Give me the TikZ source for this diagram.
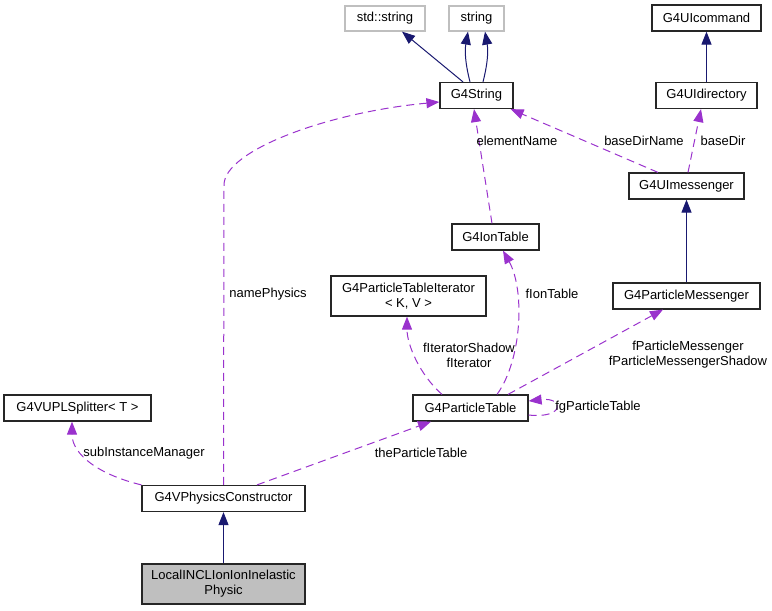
\documentclass[tikz,border=0pt]{standalone}
\usepackage{fontspec}
\setmainfont{Liberation Sans}
\usepackage{xcolor}
\usepackage{tikz}
\usetikzlibrary{arrows.meta}
\definecolor{navy}{HTML}{191970}
\definecolor{orchid}{HTML}{9A32CD}
\definecolor{boxgray}{HTML}{BFBFBF}

\begin{document}
\begin{tikzpicture}[x=1pt,y=-1pt,>={Triangle[length=13pt,width=10pt]},
    font=\fontsize{13}{15}\selectfont,
    cls/.style={draw=black!85,line width=1.2pt,inner sep=0pt,minimum height=26pt,align=center},
    ext/.style={draw=boxgray,line width=1.2pt,inner sep=0pt,minimum height=25pt},
    inh/.style={->,draw=navy,line width=1pt},
    dep/.style={->,draw=orchid,line width=1pt,dash pattern=on 8pt off 5pt},
    lbl/.style={inner sep=0pt,align=center}]
      \useasboundingbox (0,0) rectangle (772,611);
      % classes
      \node[ext,minimum width=80pt] (stdstr) at (385,18.5) {std::string};
      \node[ext,minimum width=55pt] (str) at (476.5,18.5) {string};
      \node[cls,minimum width=109pt] (uicmd) at (706.5,18) {G4UIcommand};
      \node[cls,minimum width=73pt] (g4str) at (476.5,95.5) {G4String};
      \node[cls,minimum width=101pt] (uidir) at (706.5,95.5) {G4UIdirectory};
      \node[cls,minimum width=115pt] (uimsg) at (686.5,186) {G4UImessenger};
      \node[cls,minimum width=87pt] (iontab) at (495.5,237) {G4IonTable};
      \node[cls,minimum width=155pt,minimum height=40pt] (ptiter) at (408.5,296) {G4ParticleTableIterator\\< K, V >};
      \node[cls,minimum width=147pt] (pmsg) at (686.5,296) {G4ParticleMessenger};
      \node[cls,minimum width=147pt] (split) at (77.5,408) {G4VUPLSplitter< T >};
      \node[cls,minimum width=115pt] (ptab) at (470.5,408) {G4ParticleTable};
      \node[cls,minimum width=163pt] (physc) at (223.5,498.5) {G4VPhysicsConstructor};
      \node[cls,fill=boxgray,minimum width=163pt,minimum height=40pt] (local) at (223.5,584) {LocalINCLIonIonInelastic\\Physic};
      % inheritance
      \draw[inh] ([xshift=-13.5pt]g4str.north) -- ([xshift=17pt]stdstr.south);
      \draw[inh] ([xshift=-6.5pt]g4str.north) to[bend left=12] ([xshift=-8.5pt]str.south);
      \draw[inh] ([xshift=6.5pt]g4str.north) to[bend right=12] ([xshift=8.5pt]str.south);
      \path (uidir) edge[inh] (uicmd)
            (pmsg) edge[inh] (uimsg)
            (local) edge[inh] (physc);
      % usage
      \coordinate (npbend) at (224,185);
      \draw[dep] (physc.north) -- (npbend) .. controls (224,150) and (330,112) .. ([yshift=-6.5pt]g4str.west);
      \draw[dep] ([xshift=-3.5pt]iontab.north) -- ([xshift=-2.5pt]g4str.south);
      \draw[dep] ([xshift=-28.5pt]uimsg.north) -- ([xshift=-3pt]g4str.south east);
      \draw[dep] ([xshift=1.5pt]uimsg.north) -- ([xshift=-5.5pt]uidir.south);
      \draw[dep] ([xshift=26.5pt]ptab.north) .. controls (522,360) and (525,290) .. ([xshift=7.5pt]iontab.south);
      \draw[dep] ([xshift=-28.5pt]ptab.north) .. controls (420,375) and (407,345) .. ([xshift=-1.5pt]ptiter.south);
      \draw[dep] ([xshift=37.5pt]ptab.north) -- ([xshift=-23.5pt]pmsg.south);
      \draw[dep] ([yshift=-7pt]ptab.east) .. controls +(36,4) and +(36,-4) .. ([yshift=7pt]ptab.east);
      \draw[dep] (physc.north west) .. controls (100,475) and (72,455) .. ([xshift=-5.5pt]split.south);
      \draw[dep] ([xshift=33.5pt]physc.north) -- ([xshift=-39.5pt]ptab.south);
      % labels
      \node[lbl] (lNamePhys) at (268,294) {namePhysics};
      \node[lbl] (lElem) at (517,141) {elementName};
      \node[lbl] (lBaseDirName) at (644,141) {baseDirName};
      \node[lbl] (lBaseDir) at (723,141) {baseDir};
      \node[lbl] (lIon) at (552,294) {fIonTable};
      \node[lbl] (lIter) at (469,355) {fIteratorShadow\\fIterator};
      \node[lbl] (lPMsg) at (688,355) {fParticleMessenger\\fParticleMessengerShadow};
      \node[lbl] (lFg) at (598,407) {fgParticleTable};
      \node[lbl] (lSub) at (144,453) {subInstanceManager};
      \node[lbl] (lTheP) at (421,453) {theParticleTable};
    \end{tikzpicture}
\end{document}
